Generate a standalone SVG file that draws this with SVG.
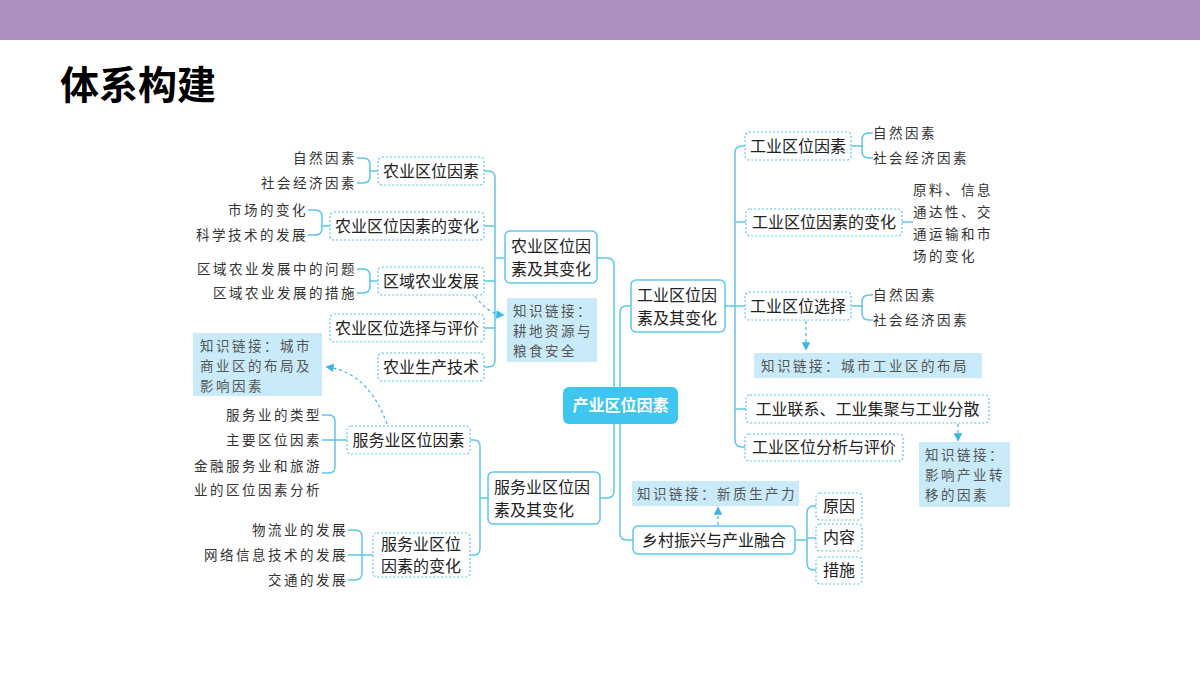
<svg xmlns="http://www.w3.org/2000/svg" width="1200" height="675" viewBox="0 0 1200 675">
<defs>
<style>
text{font-family:"Noto Sans CJK SC","Noto Sans",sans-serif;fill:#222}
.n{font-size:16px}
.l{font-size:13.5px;letter-spacing:2.5px;fill:#333}
.k{font-size:13.5px;letter-spacing:2.5px;fill:#555}
.dot{fill:#fff;stroke:#5cc6ee;stroke-width:1.2;stroke-dasharray:2 2}
.sol{fill:#fff;stroke:#5cc6ee;stroke-width:1.5}
.kb{fill:#c9eaf9}
.c{fill:none;stroke:#5cc6ee;stroke-width:1.5}
.d{fill:none;stroke:#3bb5e6;stroke-width:1.2;stroke-dasharray:3 3}
</style>
<marker id="ah" viewBox="0 0 10 10" refX="8" refY="5" markerWidth="7" markerHeight="7" orient="auto"><path d="M0,0L10,5L0,10z" fill="#3bb5e6"/></marker>
</defs>
<rect width="1200" height="675" fill="#fff"/>
<rect width="1200" height="40" fill="#ad8fc0"/>
<text x="60" y="99" style="font-size:39px;font-weight:bold;fill:#000">体系构建</text>

<g id="connectors">
<path class="c" d="M597,258H607Q614,258 614,265V387"/>
<path class="c" d="M631,306H626Q620,306 620,313V387"/>
<path class="c" d="M614,424V491Q614,498 607,498H600"/>
<path class="c" d="M620,424V533Q620,540 627,540H633"/>
<path class="c" d="M505,258H495"/>
<path class="c" d="M484,171H488Q495,171 495,178V360Q495,367 488,367H484"/>
<path class="c" d="M484,226H495M484,281H495M484,328H495"/>
<path class="c" d="M378,171H370M357,158H363Q370,158 370,165V176Q370,183 363,183H357"/>
<path class="c" d="M330,226H322M308,210H315Q322,210 322,217V228Q322,235 315,235H308"/>
<path class="c" d="M378,281H370M357,269H363Q370,269 370,276V286Q370,293 363,293H357"/>
<path class="c" d="M488,498H480M470,440H474Q480,440 480,447V548Q480,555 474,555H470"/>
<path class="c" d="M347,440H322M322,415H329Q335,415 335,422V466Q335,473 329,473H322"/>
<path class="c" d="M373,555H348M348,530H355Q362,530 362,537V573Q362,580 355,580H348"/>
<path class="c" d="M725,306H735M745,146H742Q735,146 735,153V440Q735,447 742,447H745"/>
<path class="c" d="M735,222H746M735,306H745M735,409H746"/>
<path class="c" d="M851,146H862M873,133H869Q862,133 862,140V151Q862,158 869,158H873"/>
<path class="c" d="M902,222H913"/>
<path class="c" d="M851,306H862M873,295H869Q862,295 862,302V313Q862,320 869,320H873"/>
<path class="c" d="M795,540H807M816,506H814Q807,506 807,513V563Q807,570 814,570H816M807,538H816"/>
<path class="d" d="M475,296Q488,314 503,315" marker-end="url(#ah)"/>
<path class="d" d="M387,424Q368,372 327,367" marker-end="url(#ah)"/>
<path class="d" d="M806,321V349" marker-end="url(#ah)"/>
<path class="d" d="M958,424V440" marker-end="url(#ah)"/>
<path class="d" d="M718,525V508" marker-end="url(#ah)"/>
</g>

<g id="center"><rect x="563" y="387" width="115" height="37" rx="6" fill="#3ec6ee"/><text x="620.5" y="411" text-anchor="middle" style="font-size:16px;font-weight:bold;fill:#fff">产业区位因素</text></g>

<g id="agri"><rect class="sol" x="505" y="231" width="92" height="52" rx="5"/><text class="n" x="511" y="252">农业区位因</text><text class="n" x="511" y="275">素及其变化</text></g>
<g id="a1"><rect class="dot" x="378" y="157" width="106" height="28" rx="4"/><text class="n" x="431" y="177" text-anchor="middle">农业区位因素</text></g>
<g id="a2"><rect class="dot" x="330" y="212" width="154" height="28" rx="4"/><text class="n" x="407" y="232" text-anchor="middle">农业区位因素的变化</text></g>
<g id="a3"><rect class="dot" x="378" y="267" width="106" height="28" rx="4"/><text class="n" x="431" y="287" text-anchor="middle">区域农业发展</text></g>
<g id="a4"><rect class="dot" x="330" y="314" width="154" height="28" rx="4"/><text class="n" x="407" y="334" text-anchor="middle">农业区位选择与评价</text></g>
<g id="a5"><rect class="dot" x="378" y="353" width="106" height="28" rx="4"/><text class="n" x="431" y="373" text-anchor="middle">农业生产技术</text></g>
<g id="aleaves" text-anchor="end">
<text class="l" x="357" y="163">自然因素</text><text class="l" x="357" y="188">社会经济因素</text>
<text class="l" x="308" y="215">市场的变化</text><text class="l" x="308" y="240">科学技术的发展</text>
<text class="l" x="357" y="274">区域农业发展中的问题</text><text class="l" x="357" y="298">区域农业发展的措施</text>
</g>
<g id="k1"><rect class="kb" x="507" y="298" width="90" height="64"/><text class="k" x="513" y="316">知识链接：</text><text class="k" x="513" y="336">耕地资源与</text><text class="k" x="513" y="356">粮食安全</text></g>
<g id="k2"><rect class="kb" x="193" y="333" width="129" height="63"/><text class="k" x="200" y="351">知识链接：城市</text><text class="k" x="200" y="371">商业区的布局及</text><text class="k" x="200" y="391">影响因素</text></g>

<g id="serv"><rect class="sol" x="488" y="472" width="112" height="52" rx="5"/><text class="n" x="494" y="493">服务业区位因</text><text class="n" x="494" y="516">素及其变化</text></g>
<g id="s1"><rect class="dot" x="347" y="426" width="123" height="28" rx="4"/><text class="n" x="408.5" y="446" text-anchor="middle">服务业区位因素</text></g>
<g id="s2"><rect class="dot" x="373" y="533" width="97" height="44" rx="4"/><text class="n" x="381" y="550">服务业区位</text><text class="n" x="381" y="572">因素的变化</text></g>
<g id="sleaves" text-anchor="end">
<text class="l" x="322" y="420">服务业的类型</text><text class="l" x="322" y="445">主要区位因素</text>
<text class="l" x="322" y="471">金融服务业和旅游</text><text class="l" x="322" y="495">业的区位因素分析</text>
<text class="l" x="348" y="535">物流业的发展</text><text class="l" x="348" y="560">网络信息技术的发展</text><text class="l" x="348" y="585">交通的发展</text>
</g>

<g id="ind"><rect class="sol" x="631" y="280" width="94" height="52" rx="5"/><text class="n" x="637" y="301">工业区位因</text><text class="n" x="637" y="324">素及其变化</text></g>
<g id="i1"><rect class="dot" x="745" y="132" width="106" height="28" rx="4"/><text class="n" x="798" y="152" text-anchor="middle">工业区位因素</text></g>
<g id="i2"><rect class="dot" x="746" y="209" width="156" height="27" rx="4"/><text class="n" x="824" y="228" text-anchor="middle">工业区位因素的变化</text></g>
<g id="i3"><rect class="dot" x="745" y="292" width="106" height="28" rx="4"/><text class="n" x="798" y="312" text-anchor="middle">工业区位选择</text></g>
<g id="i4"><rect class="dot" x="746" y="395" width="243" height="28" rx="4"/><text class="n" x="867.5" y="415" text-anchor="middle">工业联系、工业集聚与工业分散</text></g>
<g id="i5"><rect class="dot" x="745" y="434" width="158" height="27" rx="4"/><text class="n" x="824" y="453" text-anchor="middle">工业区位分析与评价</text></g>
<g id="ileaves">
<text class="l" x="873" y="138">自然因素</text><text class="l" x="873" y="163">社会经济因素</text>
<text class="l" x="913" y="195">原料、信息</text><text class="l" x="913" y="217">通达性、交</text><text class="l" x="913" y="239">通运输和市</text><text class="l" x="913" y="261">场的变化</text>
<text class="l" x="873" y="300">自然因素</text><text class="l" x="873" y="325">社会经济因素</text>
</g>
<g id="k3"><rect class="kb" x="754" y="353" width="228" height="25"/><text class="k" x="761" y="371">知识链接：城市工业区的布局</text></g>
<g id="k4"><rect class="kb" x="919" y="442" width="91" height="65"/><text class="k" x="925" y="460">知识链接：</text><text class="k" x="925" y="480">影响产业转</text><text class="k" x="925" y="500">移的因素</text></g>

<g id="rural"><rect class="sol" x="633" y="526" width="162" height="28" rx="5"/><text class="n" x="714" y="546" text-anchor="middle">乡村振兴与产业融合</text></g>
<g id="k5"><rect class="kb" x="632" y="481" width="167" height="25"/><text class="k" x="637" y="499">知识链接：新质生产力</text></g>
<g id="r1"><rect class="dot" x="816" y="493" width="46" height="27" rx="4"/><text class="n" x="839" y="512" text-anchor="middle">原因</text></g>
<g id="r2"><rect class="dot" x="816" y="524" width="46" height="27" rx="4"/><text class="n" x="839" y="543" text-anchor="middle">内容</text></g>
<g id="r3"><rect class="dot" x="816" y="557" width="46" height="27" rx="4"/><text class="n" x="839" y="576" text-anchor="middle">措施</text></g>
</svg>
